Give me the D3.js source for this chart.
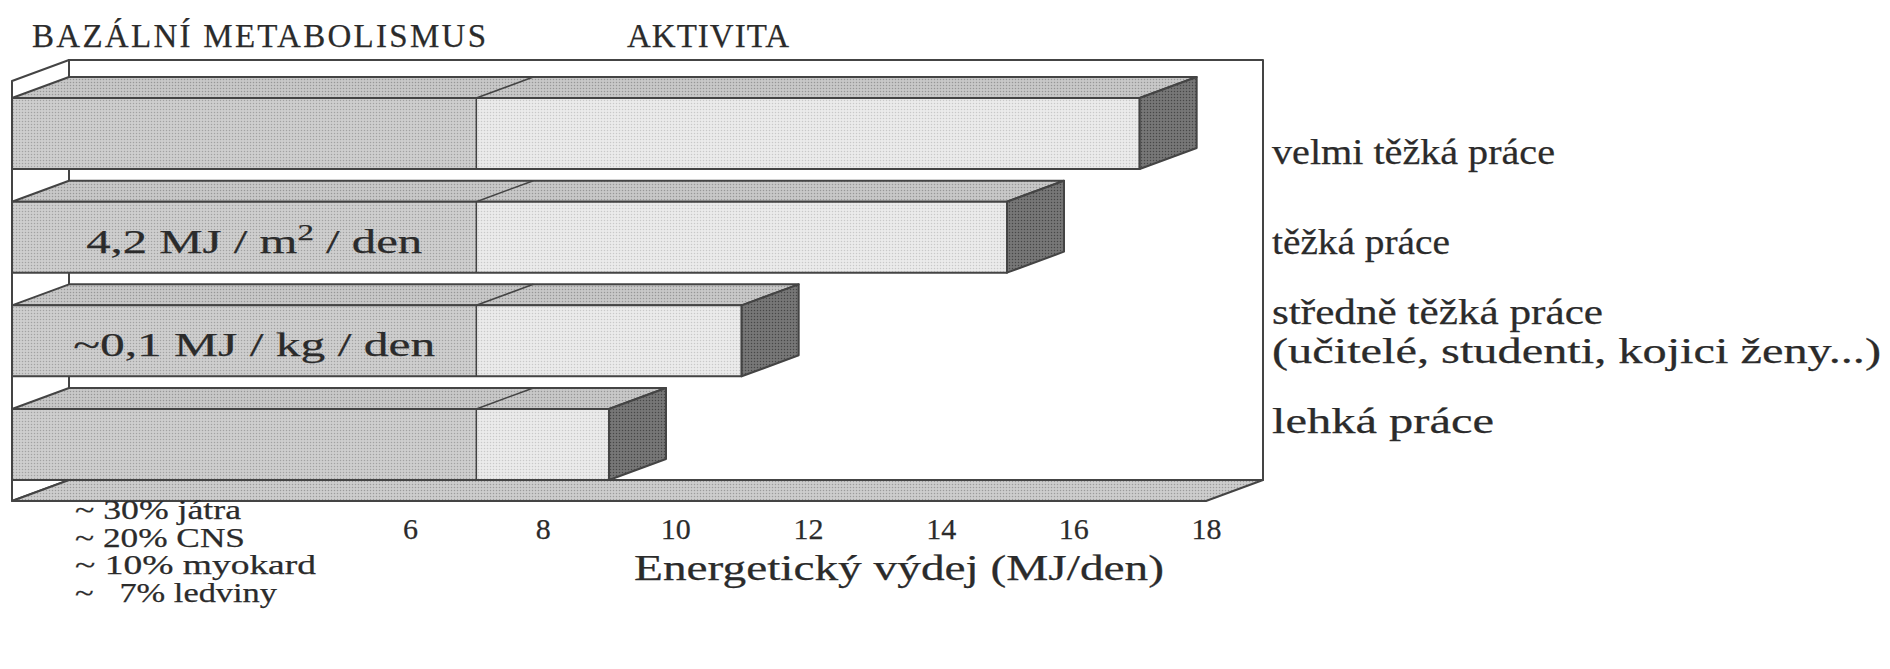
<!DOCTYPE html>
<html>
<head>
<meta charset="utf-8">
<script src="https://cdn.jsdelivr.net/npm/d3@7"></script>
<style>
  body { margin: 0; background: #fff; }
  svg { display: block; }
  text { font-family: "Liberation Serif", "DejaVu Serif", serif; fill: #2b2b2b; stroke: #2b2b2b; stroke-width: 0.25px; }
</style>
</head>
<body>
<svg id="graph" width="1890" height="669"></svg>
<script>
// data (top bar first)
var categories = ['velmi těžká práce', 'těžká práce', 'středně těžká práce', 'lehká práce'];
var totalValues = [17, 15, 11, 9];          // MJ/den
var basalValues = [7, 7, 7, 7];             // bazální metabolismus
var xTicks = [6, 8, 10, 12, 14, 16, 18];
var categoryNotes = ['', '', '(učitelé, studenti, kojici ženy...)', ''];
var barNotes = ['', '4,2 MJ / m|2| / den', '~0,1 MJ / kg / den', ''];
var organShares = ['~ 30% játra', '~ 20% CNS', '~ 10% myokard', '~   7% ledviny'];
var xTitle = 'Energetický výdej  (MJ/den)';

function Graph(){
    this.svg = d3.select('#graph');
    this.dx = 57;   // depth of the 3d boxes
    this.dy = 21;
    this.create();
}

Graph.prototype.create = function(){
    this.xScale = d3.scaleLinear().domain([0, 18]).range([12, 1206]);
    this.yScale = d3.scaleBand().domain(categories).range([82, 496])
        .paddingInner(0.315).paddingOuter(0.155);
    this.labelScale = d3.scalePoint().domain(categories).range([153, 422]);
    this.floorY = 480;
    this.topY = 60;

    this.patterns();
    this.walls();
    this.bars();
    this.texts();
}

Graph.prototype.patterns = function(){
    var defs = this.svg.append('defs');
    var list = [
        ['basal', '#cecece', '#a2a2a2'],
        ['activ', '#ebebeb', '#c9c9c9'],
        ['top', '#c8c8c8', '#979797'],
        ['side', '#777', '#474747'],
        ['floor', '#cdcdcd', '#9b9b9b']
    ];
    list.forEach(p => {
        var pat = defs.append('pattern').attr('id', p[0]).attr('patternUnits', 'userSpaceOnUse')
            .attr('width', 3).attr('height', 3);
        pat.append('rect').attr('width', 3).attr('height', 3).attr('fill', p[1]);
        pat.append('circle').attr('cx', 1.5).attr('cy', 1.5).attr('r', 0.75).attr('fill', p[2]);
    });
}

/*************************************************************************/

Graph.prototype.walls = function(){
    var x0 = this.xScale(0), x1 = this.xScale(18), dx = this.dx, dy = this.dy;
    var g = this.svg.append('g').attr('stroke', '#444').attr('stroke-width', 2).attr('stroke-linejoin', 'round');

    // back wall
    g.append('rect').attr('x', x0 + dx).attr('y', this.topY)
        .attr('width', x1 - x0).attr('height', this.floorY - this.topY).attr('fill', '#fff');
    // left wall
    g.append('polygon').attr('fill', '#fff')
        .attr('points', [[x0, this.topY + dy], [x0 + dx, this.topY], [x0 + dx, this.floorY], [x0, this.floorY + dy]].join(' '));
    // floor
    g.append('polygon').attr('fill', 'url(#floor)')
        .attr('points', [[x0, this.floorY + dy], [x0 + dx, this.floorY], [x1 + dx, this.floorY], [x1, this.floorY + dy]].join(' '));
}

Graph.prototype.bars = function(){
    var xs = this.xScale, dx = this.dx, dy = this.dy, bw = this.yScale.bandwidth();
    var data = categories.map((c, i) => ({ cat: c, total: totalValues[i], basal: basalValues[i], y: this.yScale(c) }));

    var g = this.svg.append('g').attr('stroke', '#444').attr('stroke-width', 2).attr('stroke-linejoin', 'round');
    var bar = g.selectAll('.bar').data(data).enter().append('g').attr('class', 'bar');

    // top face
    bar.append('polygon').attr('fill', 'url(#top)')
        .attr('points', d => [[xs(0), d.y], [xs(0) + dx, d.y - dy], [xs(d.total) + dx, d.y - dy], [xs(d.total), d.y]].join(' '));
    bar.append('line').attr('stroke-width', 1.5)
        .attr('x1', d => xs(d.basal)).attr('y1', d => d.y)
        .attr('x2', d => xs(d.basal) + dx).attr('y2', d => d.y - dy);
    // front face: basal part + activity part
    bar.append('rect').attr('fill', 'url(#basal)').attr('stroke', 'none')
        .attr('x', xs(0)).attr('y', d => d.y).attr('width', d => xs(d.basal) - xs(0)).attr('height', bw);
    bar.append('rect').attr('fill', 'url(#activ)').attr('stroke', 'none')
        .attr('x', d => xs(d.basal)).attr('y', d => d.y).attr('width', d => xs(d.total) - xs(d.basal)).attr('height', bw);
    bar.append('rect').attr('fill', 'none')
        .attr('x', xs(0)).attr('y', d => d.y).attr('width', d => xs(d.total) - xs(0)).attr('height', bw);
    bar.append('line').attr('stroke-width', 1.5)
        .attr('x1', d => xs(d.basal)).attr('y1', d => d.y)
        .attr('x2', d => xs(d.basal)).attr('y2', d => d.y + bw);
    // side face
    bar.append('polygon').attr('fill', 'url(#side)')
        .attr('points', d => [[xs(d.total), d.y], [xs(d.total) + dx, d.y - dy], [xs(d.total) + dx, d.y + bw - dy], [xs(d.total), d.y + bw]].join(' '));

    // notes written in the basal part
    var bt = this.svg.append('g');
    var noteWidth = [0, 336, 362, 0];
    categories.forEach((c, i) => {
        if(!barNotes[i]) return;
        var parts = barNotes[i].split('|');
        var t = bt.append('text').attr('x', (xs(0) + xs(basalValues[i])) / 2 + 10 - noteWidth[i] / 2)
            .attr('y', this.yScale(c) + bw * 0.72).attr('textLength', noteWidth[i])
            .attr('lengthAdjust', 'spacingAndGlyphs').style('font-size', '34px');
        t.append('tspan').text(parts[0]);
        if(parts.length > 1){
            t.append('tspan').attr('dy', -13).style('font-size', '23px').text(parts[1]);
            t.append('tspan').attr('dy', 13).text(parts[2]);
        }
    });
}

/*************************************************************************/

Graph.prototype.texts = function(){
    var xs = this.xScale;
    this.svg.append('text').attr('x', 32).attr('y', 47).attr('textLength', 454)
        .style('font-size', '33px').text('BAZÁLNÍ METABOLISMUS');
    this.svg.append('text').attr('x', 627).attr('y', 47).attr('textLength', 162)
        .style('font-size', '33px').text('AKTIVITA');

    // x axis tick labels (no line, just the numbers)
    var axis = this.svg.append('g').attr('transform', 'translate(0,' + 528 + ')')
        .call(d3.axisBottom(xs).tickValues(xTicks).tickSize(0).tickPadding(0));
    axis.select('.domain').remove();
    axis.selectAll('text').attr('fill', '#2b2b2b').style('font-size', '30px')
        .style('font-family', '"Liberation Serif", serif').attr('dy', '0.35em');

    this.svg.append('text').attr('x', 634).attr('y', 580).attr('textLength', 530)
        .attr('lengthAdjust', 'spacingAndGlyphs').style('font-size', '35px').text(xTitle);

    // category labels right of the box
    var labelWidth = [283, 178, 331, 609, 222];
    var rl = this.svg.append('g');
    var k = 0;
    function label(y, s){
        rl.append('text').attr('x', 1272).attr('y', y).attr('textLength', labelWidth[k++])
            .attr('lengthAdjust', 'spacingAndGlyphs').style('font-size', '35px').text(s);
    }
    categories.forEach((c, i) => {
        var yc = this.labelScale(c);
        if(categoryNotes[i]){
            label(yc - 8, c);
            label(yc + 31, categoryNotes[i]);
        } else {
            label(yc + 11, c);
        }
    });

    // organ shares of basal metabolism
    var shareWidth = [166, 170, 241, 202];
    this.svg.append('g').selectAll('text').data(organShares).enter().append('text')
        .attr('x', 75).attr('y', (d, i) => 519 + i * 27.5).attr('textLength', (d, i) => shareWidth[i])
        .attr('lengthAdjust', 'spacingAndGlyphs')
        .style('font-size', '28px').attr('xml:space', 'preserve').text(d => d);
}

var graph = new Graph();
</script>
</body>
</html>
